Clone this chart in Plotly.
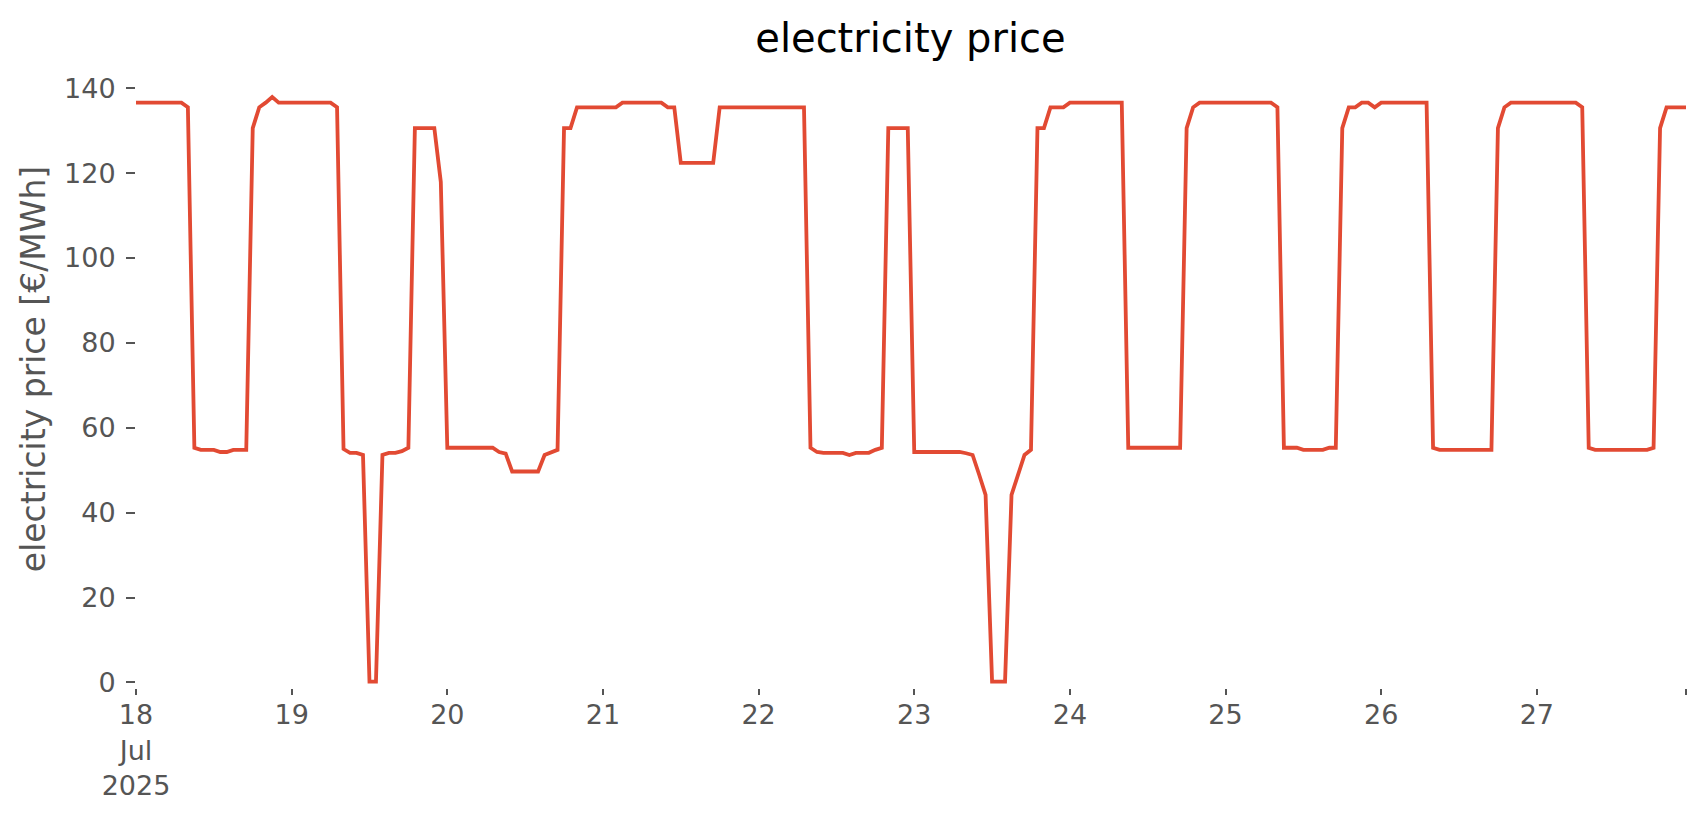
import pandas as pd
import plotly.graph_objects as go

# hourly electricity price, one list per day (18 Jul 2025 .. 27 Jul 2025)
price_jul18 = [136.6, 136.6, 136.6, 136.6, 136.6, 136.6, 136.6, 136.6, 135.5, 55.3, 54.8, 54.8,
               54.8, 54.3, 54.3, 54.8, 54.8, 54.8, 130.6, 135.5, 136.6, 137.9, 136.6, 136.6]
price_jul19 = [136.6, 136.6, 136.6, 136.6, 136.6, 136.6, 136.6, 135.5, 55.0, 54.1, 54.1, 53.6,
               0.2, 0.2, 53.6, 54.1, 54.1, 54.5, 55.3, 130.6, 130.6, 130.6, 130.6, 117.9]
price_jul20 = [55.3, 55.3, 55.3, 55.3, 55.3, 55.3, 55.3, 55.3, 54.3, 53.9, 49.7, 49.7,
               49.7, 49.7, 49.7, 53.6, 54.1, 54.8, 130.6, 130.6, 135.5, 135.5, 135.5, 135.5]
price_jul21 = [135.5, 135.5, 135.5, 136.6, 136.6, 136.6, 136.6, 136.6, 136.6, 136.6, 135.5, 135.5,
               122.4, 122.4, 122.4, 122.4, 122.4, 122.4, 135.5, 135.5, 135.5, 135.5, 135.5, 135.5]
price_jul22 = [135.5, 135.5, 135.5, 135.5, 135.5, 135.5, 135.5, 135.5, 55.3, 54.3, 54.1, 54.1,
               54.1, 54.1, 53.6, 54.1, 54.1, 54.1, 54.8, 55.3, 130.6, 130.6, 130.6, 130.6]
price_jul23 = [54.3, 54.3, 54.3, 54.3, 54.3, 54.3, 54.3, 54.3, 54.0, 53.6, 49.0, 44.2,
               0.2, 0.2, 0.2, 44.2, 49.0, 53.6, 54.8, 130.6, 130.6, 135.5, 135.5, 135.5]
price_jul24 = [136.6, 136.6, 136.6, 136.6, 136.6, 136.6, 136.6, 136.6, 136.6, 55.3, 55.3, 55.3,
               55.3, 55.3, 55.3, 55.3, 55.3, 55.3, 130.6, 135.5, 136.6, 136.6, 136.6, 136.6]
price_jul25 = [136.6, 136.6, 136.6, 136.6, 136.6, 136.6, 136.6, 136.6, 135.5, 55.3, 55.3, 55.3,
               54.8, 54.8, 54.8, 54.8, 55.3, 55.3, 130.6, 135.5, 135.5, 136.6, 136.6, 135.5]
price_jul26 = [136.6, 136.6, 136.6, 136.6, 136.6, 136.6, 136.6, 136.6, 55.3, 54.8, 54.8, 54.8,
               54.8, 54.8, 54.8, 54.8, 54.8, 54.8, 130.6, 135.5, 136.6, 136.6, 136.6, 136.6]
price_jul27 = [136.6, 136.6, 136.6, 136.6, 136.6, 136.6, 136.6, 135.5, 55.3, 54.8, 54.8, 54.8,
               54.8, 54.8, 54.8, 54.8, 54.8, 54.8, 55.3, 130.6, 135.5, 135.5, 135.5, 135.5]

day_labels = ["18<br>Jul<br>2025", "19", "20", "21", "22", "23", "24", "25", "26", "27"]

prices = (price_jul18 + price_jul19 + price_jul20 + price_jul21 + price_jul22
          + price_jul23 + price_jul24 + price_jul25 + price_jul26 + price_jul27)
dates = pd.date_range("2025-07-18 00:00", periods=len(prices), freq="h")

day_ticks = list(pd.date_range("2025-07-18", periods=len(day_labels), freq="D"))
tick_vals = day_ticks + [dates[-1]]
tick_text = day_labels + [""]

fig = go.Figure()
fig.add_trace(go.Scatter(
    x=dates, y=prices, mode="lines",
    line=dict(color="#E24A33", width=3.8),
    showlegend=False,
))

tick_font = dict(family="DejaVu Sans", size=27, color="#555555")

# page body has an 8px margin, so the figure is a bit smaller than the window
fig.update_layout(
    width=1690, height=799,
    margin=dict(l=128, r=12, t=42, b=119),
    plot_bgcolor="white", paper_bgcolor="white",
    font=dict(family="DejaVu Sans", color="#555555"),
    title=dict(text="electricity price", x=0.534, xanchor="center",
               y=1 - 30 / 799, yanchor="middle",
               font=dict(family="DejaVu Sans", size=40, color="black")),
    xaxis=dict(
        range=[dates[0], dates[-1]],
        tickvals=tick_vals, ticktext=tick_text,
        ticks="outside", ticklen=6, tickwidth=1.5, tickcolor="#555555",
        ticklabelstandoff=-3, automargin=False,
        tickfont=tick_font, showgrid=False, zeroline=False, showline=False,
    ),
    yaxis=dict(
        range=[-1.3, 149],
        tickvals=[0, 20, 40, 60, 80, 100, 120, 140],
        ticks="outside", ticklen=9, tickwidth=1.5, tickcolor="#555555",
        ticklabelstandoff=5, automargin=False,
        tickfont=tick_font, showgrid=False, zeroline=False, showline=False,
        title=dict(text="electricity price [€/MWh]",
                   font=dict(family="DejaVu Sans", size=33, color="#555555"),
                   standoff=8),
    ),
)

fig.write_html("out.html")
